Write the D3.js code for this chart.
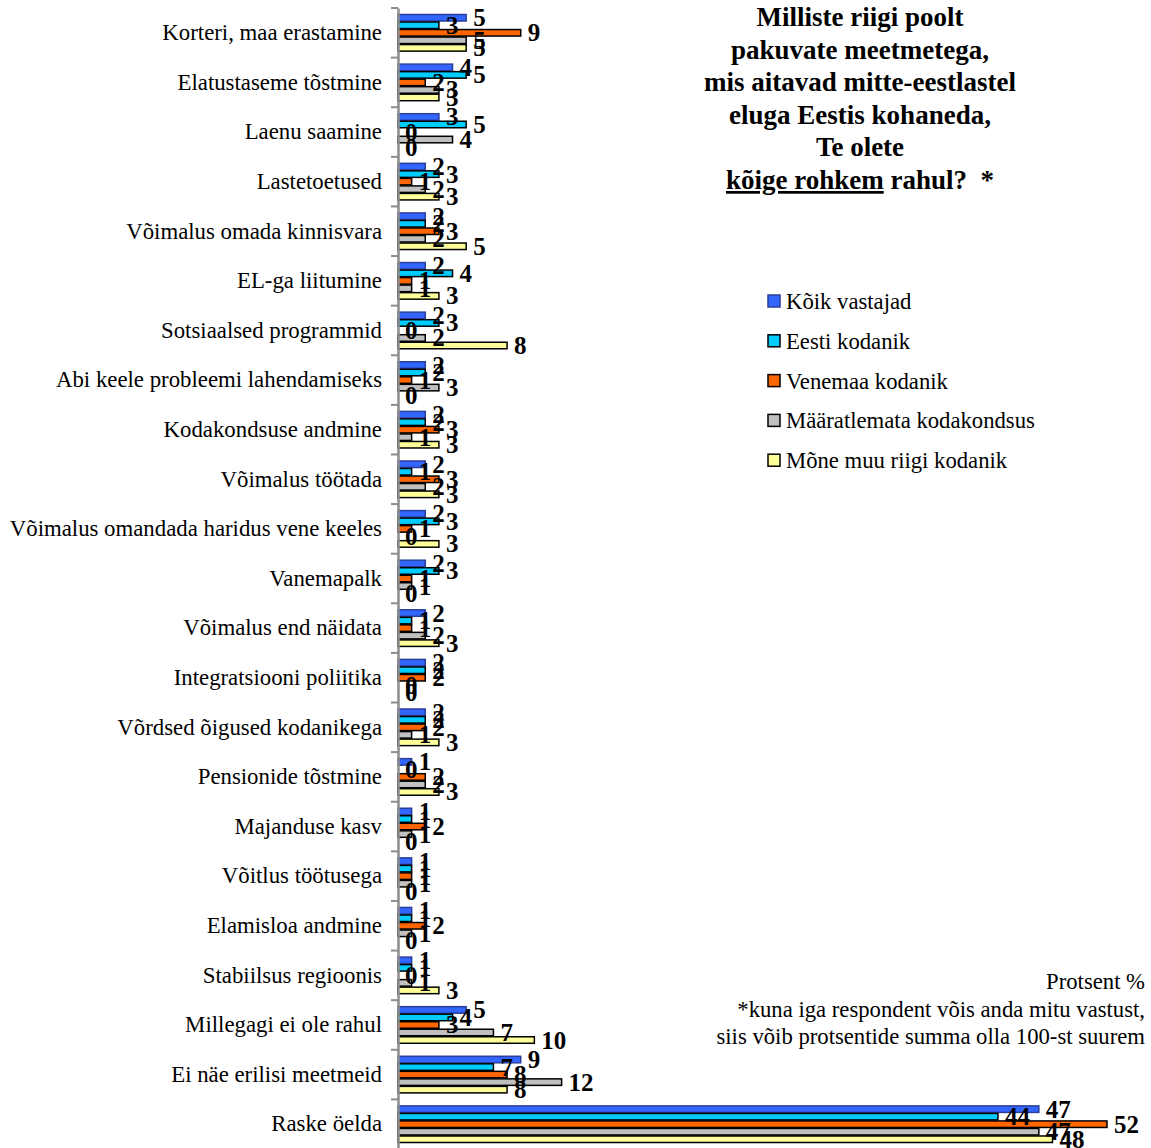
<!DOCTYPE html>
<html>
<head>
<meta charset="utf-8">
<script src="https://cdn.jsdelivr.net/npm/d3@7"></script>
<style>
  html, body { margin: 0; padding: 0; background: #fff; }
  svg { display: block; }
</style>
</head>
<body>
<svg id="chart" width="1151" height="1148"></svg>
<script>
// Survey categories (top to bottom)
const categories = [
  "Korteri, maa erastamine",
  "Elatustaseme tõstmine",
  "Laenu saamine",
  "Lastetoetused",
  "Võimalus omada kinnisvara",
  "EL-ga liitumine",
  "Sotsiaalsed programmid",
  "Abi keele probleemi lahendamiseks",
  "Kodakondsuse andmine",
  "Võimalus töötada",
  "Võimalus omandada haridus vene keeles",
  "Vanemapalk",
  "Võimalus end näidata",
  "Integratsiooni poliitika",
  "Võrdsed õigused kodanikega",
  "Pensionide tõstmine",
  "Majanduse kasv",
  "Võitlus töötusega",
  "Elamisloa andmine",
  "Stabiilsus regioonis",
  "Millegagi ei ole rahul",
  "Ei näe erilisi meetmeid",
  "Raske öelda"
];

// Series names
const seriesNames = [
  "Kõik vastajad",
  "Eesti kodanik",
  "Venemaa kodanik",
  "Määratlemata kodakondsus",
  "Mõne muu riigi kodanik"
];

// Percentages per series, in category order
const koikVastajad      = [5, 4, 3, 2, 2, 2, 2, 2, 2, 2, 2, 2, 2, 2, 2, 1, 1, 1, 1, 1, 5, 9, 47];
const eestiKodanik      = [3, 5, 5, 3, 2, 4, 3, 2, 2, 1, 3, 3, 1, 2, 2, 0, 1, 1, 1, 1, 4, 7, 44];
const venemaaKodanik    = [9, 2, 0, 1, 3, 1, 0, 1, 3, 3, 1, 1, 1, 2, 2, 2, 2, 1, 2, 0, 3, 8, 52];
const maaratlemata      = [5, 3, 4, 2, 2, 1, 2, 3, 1, 2, 0, 1, 2, 0, 1, 2, 1, 1, 1, 1, 7, 12, 47];
const moneMuuRiigi      = [5, 3, 0, 3, 5, 3, 8, 0, 3, 3, 3, 0, 3, 0, 3, 3, 0, 0, 0, 3, 10, 8, 48];

const seriesValues = [koikVastajad, eestiKodanik, venemaaKodanik, maaratlemata, moneMuuRiigi];

const fills   = ["#3366FF", "#00CCFF", "#FF6600", "#C0C0C0", "#FFFF99"];
const strokes = ["#2a3f9a", "#000000", "#000000", "#000000", "#000000"];

const titleLines = [
  "Milliste riigi poolt",
  "pakuvate meetmetega,",
  "mis aitavad mitte-eestlastel",
  "eluga Eestis kohaneda,",
  "Te olete"
];

const footLines = [
  "Protsent %",
  "*kuna iga respondent võis anda mitu vastust,",
  "siis võib protsentide summa olla 100-st suurem"
];

const serif = "'Liberation Serif', 'Times New Roman', serif";
const svg = d3.select("#chart");

// Scales
const axisX = 398;
const x = d3.scaleLinear().domain([0, 52]).range([axisX, 1107]);
const y0 = d3.scaleBand().domain(categories).range([8, 1149]).paddingInner(0).paddingOuter(0);
const y1 = d3.scaleBand().domain(d3.range(seriesNames.length))
  .range([6, y0.bandwidth() - 6]).padding(0);

// Bars
const groups = svg.append("g").selectAll("g")
  .data(categories)
  .join("g")
  .attr("transform", d => `translate(0,${y0(d)})`);

groups.selectAll("rect")
  .data((c, i) => seriesValues.map((vals, s) => ({ s, v: vals[i] })))
  .join("rect")
  .filter(d => d.v > 0)
  .attr("x", x(0))
  .attr("y", d => y1(d.s) + 0.5)
  .attr("width", d => x(d.v) - x(0))
  .attr("height", y1.bandwidth() - 1)
  .attr("fill", d => fills[d.s])
  .attr("stroke", d => strokes[d.s])
  .attr("stroke-width", 1.5);

// Value labels
groups.selectAll("text.val")
  .data((c, i) => seriesValues.map((vals, s) => ({ s, v: vals[i] })))
  .join("text")
  .attr("class", "val")
  .attr("x", d => x(d.v) + 7)
  .attr("y", d => y1(d.s) + y1.bandwidth() / 2 + 8.5)
  .attr("font-family", serif)
  .attr("font-weight", "bold")
  .attr("font-size", 25)
  .attr("fill", "#000")
  .text(d => d.v);

// Category axis
const yAxis = d3.axisLeft(y0).tickSize(0).tickPadding(16);
const ax = svg.append("g").attr("transform", `translate(${axisX},0)`).call(yAxis);
ax.select(".domain").attr("stroke", "#8c8c8c").attr("stroke-width", 2.5);
ax.selectAll("text")
  .attr("font-family", serif)
  .attr("font-size", 22.8)
  .attr("fill", "#000");

// Tick marks between categories
const boundaries = categories.map(c => y0(c)).concat([y0.range()[1]]);
svg.append("g").selectAll("line")
  .data(boundaries)
  .join("line")
  .attr("x1", axisX - 7).attr("x2", axisX)
  .attr("y1", d => d).attr("y2", d => d)
  .attr("stroke", "#8c8c8c").attr("stroke-width", 2);

// Title
const title = svg.append("text")
  .attr("font-family", serif)
  .attr("font-weight", "bold")
  .attr("font-size", 27)
  .attr("text-anchor", "middle")
  .attr("fill", "#000");
titleLines.forEach((t, i) => {
  title.append("tspan").attr("x", 860).attr("y", 26 + i * 32.6).text(t);
});
const last = svg.append("text")
  .attr("font-family", serif)
  .attr("font-weight", "bold")
  .attr("font-size", 27)
  .attr("text-anchor", "middle")
  .attr("x", 860)
  .attr("y", 26 + 5 * 32.6)
  .attr("fill", "#000");
last.append("tspan").attr("text-decoration", "underline").text("kõige rohkem");
last.append("tspan").text(" rahul?\u00a0\u00a0*");

// Legend
const legend = svg.append("g").selectAll("g")
  .data(seriesNames)
  .join("g")
  .attr("transform", (d, i) => `translate(768,${301 + i * 39.8})`);
legend.append("rect")
  .attr("x", 0).attr("y", -6).attr("width", 12).attr("height", 12)
  .attr("fill", (d, i) => fills[i])
  .attr("stroke", (d, i) => strokes[i])
  .attr("stroke-width", 1.5);
legend.append("text")
  .attr("x", 18).attr("y", 8)
  .attr("font-family", serif)
  .attr("font-size", 22.7)
  .attr("fill", "#000")
  .text(d => d);

// Footnote
const foot = svg.append("text")
  .attr("font-family", serif)
  .attr("font-size", 22.7)
  .attr("text-anchor", "end")
  .attr("fill", "#000");
footLines.forEach((t, i) => {
  foot.append("tspan").attr("x", 1145).attr("y", 989 + i * 27.5).text(t);
});
</script>
</body>
</html>
